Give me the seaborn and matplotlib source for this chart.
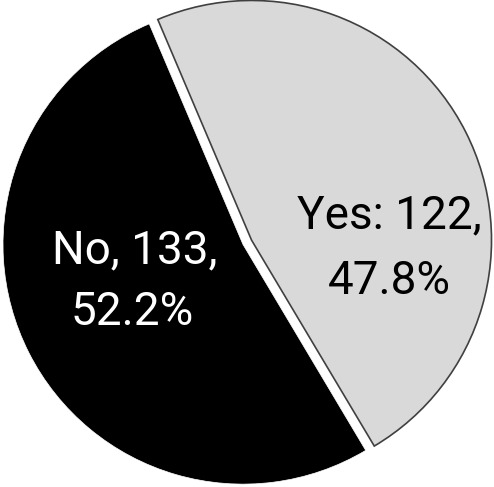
import matplotlib
matplotlib.use("Agg")
import matplotlib.pyplot as plt
import seaborn as sns

sns.set_theme(style="white")
plt.rcParams['font.family'] = ['Roboto', 'DejaVu Sans']

# data
answers = ["Yes", "No"]
counts = [122, 133]
pcts = [47.8, 52.2]
slice_colors = ["#d9d9d9", "#000000"]

fig = plt.figure(figsize=(4.94, 4.87), dpi=100)
ax = fig.add_axes([0, 0, 1, 1])

wedges, _ = ax.pie(counts, colors=slice_colors, startangle=113, counterclock=False,
                   explode=[0.04, 0], radius=1.0)
wedges[0].set_edgecolor("#404040")
wedges[0].set_linewidth(1.2)
wedges[1].set_edgecolor("white")
wedges[1].set_linewidth(0.5)

# labels, two lines each (Excel-style data labels)
fs = 33
ax.text(0.612, 0.065, f"{answers[0]}: {counts[0]},", ha="center", va="baseline",
        fontsize=fs, color="black")
ax.text(0.612, -0.207, f"{pcts[0]}%", ha="center", va="baseline",
        fontsize=fs, color="black")
ax.text(-0.450, -0.077, f"{answers[1]}, {counts[1]},", ha="center", va="baseline",
        fontsize=fs, color="white")
ax.text(-0.4605, -0.336, f"{pcts[1]}%", ha="center", va="baseline",
        fontsize=fs, color="white")

ax.set_aspect("auto")
ax.set_xlim(-1.0125, 1.046)
ax.set_ylim(-1.012, 1.02)
ax.axis("off")

fig.savefig("out.png", dpi=100)
